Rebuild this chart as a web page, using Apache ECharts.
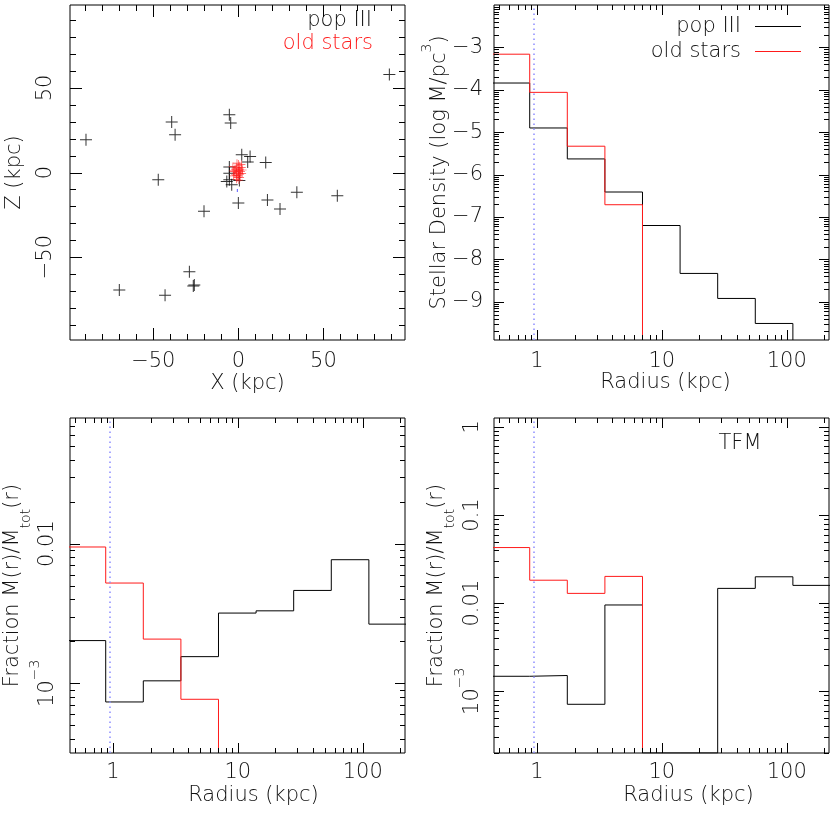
<!DOCTYPE html>
<html><head><meta charset="utf-8">
<script src="https://cdn.jsdelivr.net/npm/echarts@6/dist/echarts.min.js"></script>
<style>html,body{margin:0;padding:0;background:#fff}
#wrap{position:relative;width:830px;height:813px}
.p{position:absolute;left:0;top:0;width:830px;height:813px}</style>
</head><body><div id="wrap"></div>
<script>
// ---------------- data ----------------
const binEdges = [0.4375, 0.875, 1.75, 3.5, 7, 14, 28, 56, 112, 224];   // kpc
const popIIIDensity = [-3.84, -4.90, -5.63, -6.41, -7.20, -8.33, -8.92, -9.51, null];
const oldDensity    = [-3.16, -4.06, -5.33, -6.71, null, null, null, null, null];
const popIIIFraction = [2.02e-3, 7.34e-4, 1.04e-3, 1.55e-3, 3.18e-3, 3.30e-3, 4.62e-3, 7.67e-3, 2.65e-3];
const oldFraction    = [9.46e-3, 5.22e-3, 2.07e-3, 7.67e-4, null, null, null, null, null];
const popIIIFractionTFM = [1.48e-3, 1.51e-3, 7.12e-4, 9.53e-3, null, null, 0.0147, 0.0199, 0.0159];
const oldFractionTFM    = [0.0427, 0.0182, 0.0129, 0.0201, null, null, null, null, null];

const popIIIX = [-3.9, 88.8, -89.6, -39.2, -37.2, -5.3, -4.5, -47.1, 2.0, 6.9, 5.5, 16.1, -20.2, 0.0, 17.1, 24.5, 34.4, 58.2, -28.8, -25.9, -26.5, -70.0, -43.1, -5.3, -5.3, -5.3, -3.9, 0.6, -6.8];
const popIIIZ = [99.3, 57.9, 19.4, 29.9, 22.3, 34.2, 29.3, -4.3, 10.5, 9.5, 6.2, 5.9, -22.9, -18.1, -16.2, -21.5, -11.6, -13.8, -58.6, -66.5, -67.1, -69.5, -72.5, 3.2, -0.4, -4.3, -7.3, -4.7, -5.3];
const oldX = [-1.0, 0.0, -2.0, 1.0, 0.0, -1.0, 1.0, -2.0, 0.5, -0.5, 1.5, -2.5, 0.0, -1.0, 2.0, -3.0, 1.0, 0.5, -1.5, 2.2, -0.8, 0.3, -2.8, 1.8, -1.2, 0.8, -0.3, 2.5, -3.2, 0.0];
const oldZ = [0.0, 1.0, 2.0, -1.0, -2.0, 3.0, 2.0, -1.0, 4.0, -3.0, 0.5, 0.5, 5.0, -4.0, 3.0, 1.0, -3.0, -0.5, 1.5, -0.5, 5.5, -4.5, -2.0, 4.8, -1.8, 1.2, 2.6, 1.5, 3.5, 0.0];
const otherX = [-0.6];
const otherZ = [-10.6];

const innerRadius = 0.95;                       // dotted reference radius, kpc
const xzTicks = [-50, 0, 50];
const radiusTicks = [1, 10, 100];
const densityTicks = [-9, -8, -7, -6, -5, -4, -3];
const fractionTicks = [0.001, 0.01];
const fractionTicksTFM = [0.001, 0.01, 0.1, 1];

// ---------------- style ----------------
const FONT = '"DejaVu Sans", sans-serif';
const FW = 200;
const FS = 21;
const INK = '#111';
const RED = '#ff1a1a';
const BLUE = '#8c8cff';

// ---------------- ranges & tick helpers ----------------
const R_MIN = 0.453, R_MAX = 218;
const BL_MIN = Math.pow(10, -3.5), BL_MAX = Math.pow(10, -1.1);
const BR_MIN = Math.pow(10, -3.7), BR_MAX = Math.pow(10, 0.1);
const D_MIN = -9.9, D_MAX = -2;
const XZ_MIN = -99, XZ_MAXX = 98, XZ_MAXZ = 99;

function inRange(v, lo, hi) { return v > lo && v < hi; }
function logMinors(lo, hi) {
  const out = [];
  for (let e = -5; e <= 3; e++) for (let k = 2; k <= 9; k++) {
    const v = +(k * Math.pow(10, e)).toPrecision(6);
    if (inRange(v, lo, hi)) out.push(v);
  }
  return out;
}
function logMajors(lo, hi) {
  const out = [];
  for (let e = -5; e <= 3; e++) { const v = +Math.pow(10, e).toPrecision(6); if (inRange(v, lo, hi)) out.push(v); }
  return out;
}
function linLogMinors(lo, hi) {
  const out = [];
  for (let n = -11; n <= 0; n++) for (let k = 2; k <= 9; k++) {
    const v = n + Math.log10(k);
    if (inRange(v, lo, hi)) out.push(v);
  }
  return out;
}
function linMinors(lo, hi, step, majors) {
  const out = [];
  for (let v = Math.ceil(lo / step) * step; v <= hi; v += step) if (majors.indexOf(v) < 0) out.push(v);
  return out;
}
const minus = s => String(s).replace('-', '\u2212');

function stepData(values, floor) {
  let last = -1;
  values.forEach((v, i) => { if (v != null) last = i; });
  const pts = [];
  for (let i = 0; i <= last; i++) pts.push([binEdges[i], values[i] == null ? floor : values[i]]);
  pts.push([binEdges[last + 1], floor]);
  return pts;
}

const RICH = {
  m: { fontSize: FS, fontFamily: FONT, fontWeight: FW, color: INK, lineHeight: 40 },
  s: { fontSize: 14, fontFamily: FONT, fontWeight: FW, color: INK, verticalAlign: 'top' },
  n: { fontSize: FS, fontFamily: FONT, fontWeight: FW, color: INK, lineHeight: 40 },
  sup: { fontSize: 14, fontFamily: FONT, fontWeight: FW, color: INK, verticalAlign: 'top' },
  sub: { fontSize: 14, fontFamily: FONT, fontWeight: FW, color: INK, verticalAlign: 'bottom' }
};

// main axis: labels + name
function mainAxis(dim, o) {
  const ax = {
    gridIndex: 0, type: o.type, position: dim === 'x' ? 'bottom' : 'left', offset: 0, min: o.min, max: o.max,
    splitLine: { show: false }, axisLine: { show: false, onZero: false }, axisTick: { show: false },
    axisLabel: {
      show: true, customValues: o.labels.slice(), formatter: o.fmt, margin: o.margin, rotate: o.rotate || 0,
      color: INK, fontSize: FS, fontFamily: FONT, fontWeight: FW, lineHeight: o.labelLH || 24, rich: RICH
    },
    name: o.name, nameLocation: 'middle', nameGap: o.nameGap, nameMoveOverlap: false,
    nameRotate: dim === 'y' ? 90 : 0,
    nameTextStyle: {
      color: INK, fontSize: FS, fontFamily: FONT, fontWeight: FW, lineHeight: o.nameLH || 24,
      padding: o.namePad || 0, rich: RICH, align: 'center', verticalAlign: 'middle'
    }
  };
  if (o.labelAlign) { ax.axisLabel.align = o.labelAlign; ax.axisLabel.verticalAlign = 'middle'; }
  if (o.type === 'log') ax.logBase = 10;
  return [ax];
}

// frame ticks (inward, on all four sides), positioned through the axes' own scales
function tickItems(xs, ys) {
  const items = [];
  xs.majors.forEach(v => items.push([v, ys.min, xs.majorLen, 0]));
  xs.minors.forEach(v => items.push([v, ys.min, xs.minorLen, 0]));
  ys.majors.forEach(v => items.push([xs.min, v, ys.majorLen, 1]));
  ys.minors.forEach(v => items.push([xs.min, v, ys.minorLen, 1]));
  return items;
}
function renderTick(params, api) {
  const cs = params.coordSys;
  const len = api.value(2);
  const isY = api.value(3) === 1;
  const p = api.coord([api.value(0), api.value(1)]);
  const st = { stroke: '#000', lineWidth: 1 };
  if (!isY) {
    const x = Math.round(p[0]) + 0.5;
    return { type: 'group', children: [
      { type: 'line', shape: { x1: x, y1: cs.y + cs.height, x2: x, y2: cs.y + cs.height - len }, style: st },
      { type: 'line', shape: { x1: x, y1: cs.y, x2: x, y2: cs.y + len }, style: st }
    ] };
  }
  const y = Math.round(p[1]) + 0.5;
  return { type: 'group', children: [
    { type: 'line', shape: { x1: cs.x, y1: y, x2: cs.x + len, y2: y }, style: st },
    { type: 'line', shape: { x1: cs.x + cs.width, y1: y, x2: cs.x + cs.width - len, y2: y }, style: st }
  ] };
}
const tickSeries = (xs, ys) => ({
  name: 'ticks', type: 'custom', renderItem: renderTick, data: tickItems(xs, ys),
  encode: { x: 0, y: 1 }, silent: true, clip: false, z: 6
});

const fracFmt = v => v < 0.005 ? '{m|10}{s|\u22123}' : '{m|' + (+v.toPrecision(3)) + '}';
const FRAC_NAME = '{n|Fraction M(r)/M}{sub|tot}{n|(r)}';
const radiusSpec = (pad, margin) => ({
  type: 'log', min: R_MIN, max: R_MAX, majors: logMajors(R_MIN, R_MAX), minors: logMinors(R_MIN, R_MAX),
  labels: radiusTicks, fmt: v => String(Math.round(v)), margin, labelAlign: 'center', majorLen: 10, minorLen: 5,
  name: 'Radius (kpc)', nameGap: 43, namePad: pad
});

const PLUS = 'path://M-6,-0.5H6V0.5H-6Z M-0.5,-6H0.5V6H-0.5Z';
const refLine = {
  silent: true, symbol: 'none', label: { show: false },
  lineStyle: { color: BLUE, type: [1.5, 3.5], width: 1.5 },
  data: [{ xAxis: innerRadius }]
};
function hist(name, values, floor, color, withRef) {
  const s = {
    name, type: 'line', step: 'end', xAxisIndex: 0, yAxisIndex: 0,
    data: stepData(values, floor), symbol: 'none', showSymbol: false, clip: true,
    color, lineStyle: { color, width: 1 }, itemStyle: { color }, z: withRef ? 3 : 4
  };
  if (withRef) s.markLine = refLine;
  return s;
}
const zip = (a, b) => a.map((v, i) => [v, b[i]]);
const txt = (text, x, y, color, align) => ({
  type: 'text', x, y, silent: true,
  style: { text, fill: color, fontSize: FS, fontFamily: FONT, fontWeight: FW,
    textAlign: align, align, textVerticalAlign: 'middle', verticalAlign: 'middle' }
});
const gridAt = (left, top) => ({ left, top, width: 335, height: 335, show: true, borderColor: '#000', outerBoundsMode: 'none' });

// ---------------- panels ----------------
const panels = [
  { at: [70, 5],
    x: { type: 'value', min: XZ_MIN, max: XZ_MAXX, majors: xzTicks, minors: linMinors(XZ_MIN, XZ_MAXX, 10, xzTicks),
      labels: xzTicks, fmt: minus, margin: 22, labelAlign: 'center', majorLen: 12, minorLen: 6,
      name: 'X (kpc)', nameGap: 44, namePad: [0, 0, 0, 20] },
    y: { type: 'value', min: XZ_MIN, max: XZ_MAXZ, majors: xzTicks, minors: linMinors(XZ_MIN, XZ_MAXZ, 10, xzTicks),
      labels: xzTicks, fmt: minus, margin: 24, rotate: 90, labelAlign: 'center', majorLen: 12, minorLen: 6,
      name: 'Z (kpc)', nameGap: 55 },
    extra: { graphic: [txt('pop III', 372, 21, INK, 'right'), txt('old stars', 373, 44, RED, 'right')] },
    series: [
      { name: 'pop III', type: 'scatter', data: zip(popIIIX, popIIIZ), symbol: PLUS, symbolSize: 12, itemStyle: { color: '#000' }, clip: true },
      { name: 'old stars', type: 'scatter', data: zip(oldX, oldZ), symbol: PLUS, symbolSize: 8, itemStyle: { color: RED }, clip: true, z: 3 },
      { name: 'other', type: 'scatter', data: zip(otherX, otherZ), symbol: 'rect', symbolSize: [1, 3], itemStyle: { color: '#3030ff' } }
    ] },
  { at: [494, 5],
    x: radiusSpec([0, 0, 0, 8], 22),
    y: { type: 'value', min: D_MIN, max: D_MAX, majors: densityTicks, minors: linLogMinors(D_MIN, D_MAX),
      labels: densityTicks, fmt: minus, margin: 11, majorLen: 10, minorLen: 5,
      name: '{n|Stellar Density (log M/pc}{sup|3}{n|)}', nameGap: 54, nameLH: 40 },
    extra: { legend: {
      data: ['pop III', 'old stars'], orient: 'vertical', align: 'right', right: 24, top: 11,
      icon: 'path://M0,0H46V1.2H0Z', itemWidth: 46, itemHeight: 2, itemGap: 4, selectedMode: false,
      textStyle: { color: INK, fontSize: FS, fontFamily: FONT, fontWeight: FW, padding: [0, 9, 0, 0] } } },
    series: [hist('pop III', popIIIDensity, D_MIN, '#000', true), hist('old stars', oldDensity, D_MIN, RED, false)] },
  { at: [70, 418],
    x: radiusSpec([0, 0, 0, 32], 20),
    y: { type: 'log', min: BL_MIN, max: BL_MAX, majors: logMajors(BL_MIN, BL_MAX), minors: logMinors(BL_MIN, BL_MAX),
      labels: fractionTicks, fmt: fracFmt, margin: 22, rotate: 90, labelLH: 40, labelAlign: 'center', majorLen: 10, minorLen: 5,
      name: FRAC_NAME, nameGap: 57, nameLH: 40 },
    extra: {},
    series: [hist('pop III', popIIIFraction, BL_MIN, '#000', true), hist('old stars', oldFraction, BL_MIN, RED, false)] },
  { at: [494, 418],
    x: radiusSpec([0, 0, 0, 54], 20),
    y: { type: 'log', min: BR_MIN, max: BR_MAX, majors: logMajors(BR_MIN, BR_MAX), minors: logMinors(BR_MIN, BR_MAX),
      labels: fractionTicksTFM, fmt: fracFmt, margin: 21, rotate: 90, labelLH: 40, labelAlign: 'center', majorLen: 10, minorLen: 5,
      name: FRAC_NAME, nameGap: 57, nameLH: 40 },
    extra: { graphic: [txt('TFM', 740, 444, INK, 'center')] },
    series: [hist('pop III', popIIIFractionTFM, BR_MIN, '#000', true), hist('old stars', oldFractionTFM, BR_MIN, RED, false)] }
];

const wrap = document.getElementById('wrap');
panels.forEach(p => {
  const d = document.createElement('div');
  d.className = 'p';
  wrap.appendChild(d);
  const chart = echarts.init(d, null, { renderer: 'canvas' });
  chart.setOption(Object.assign({
    animation: false,
    grid: [gridAt(p.at[0], p.at[1])],
    xAxis: mainAxis('x', p.x),
    yAxis: mainAxis('y', p.y),
    series: p.series.concat([tickSeries(p.x, p.y)])
  }, p.extra));
});
</script>
</body></html>
